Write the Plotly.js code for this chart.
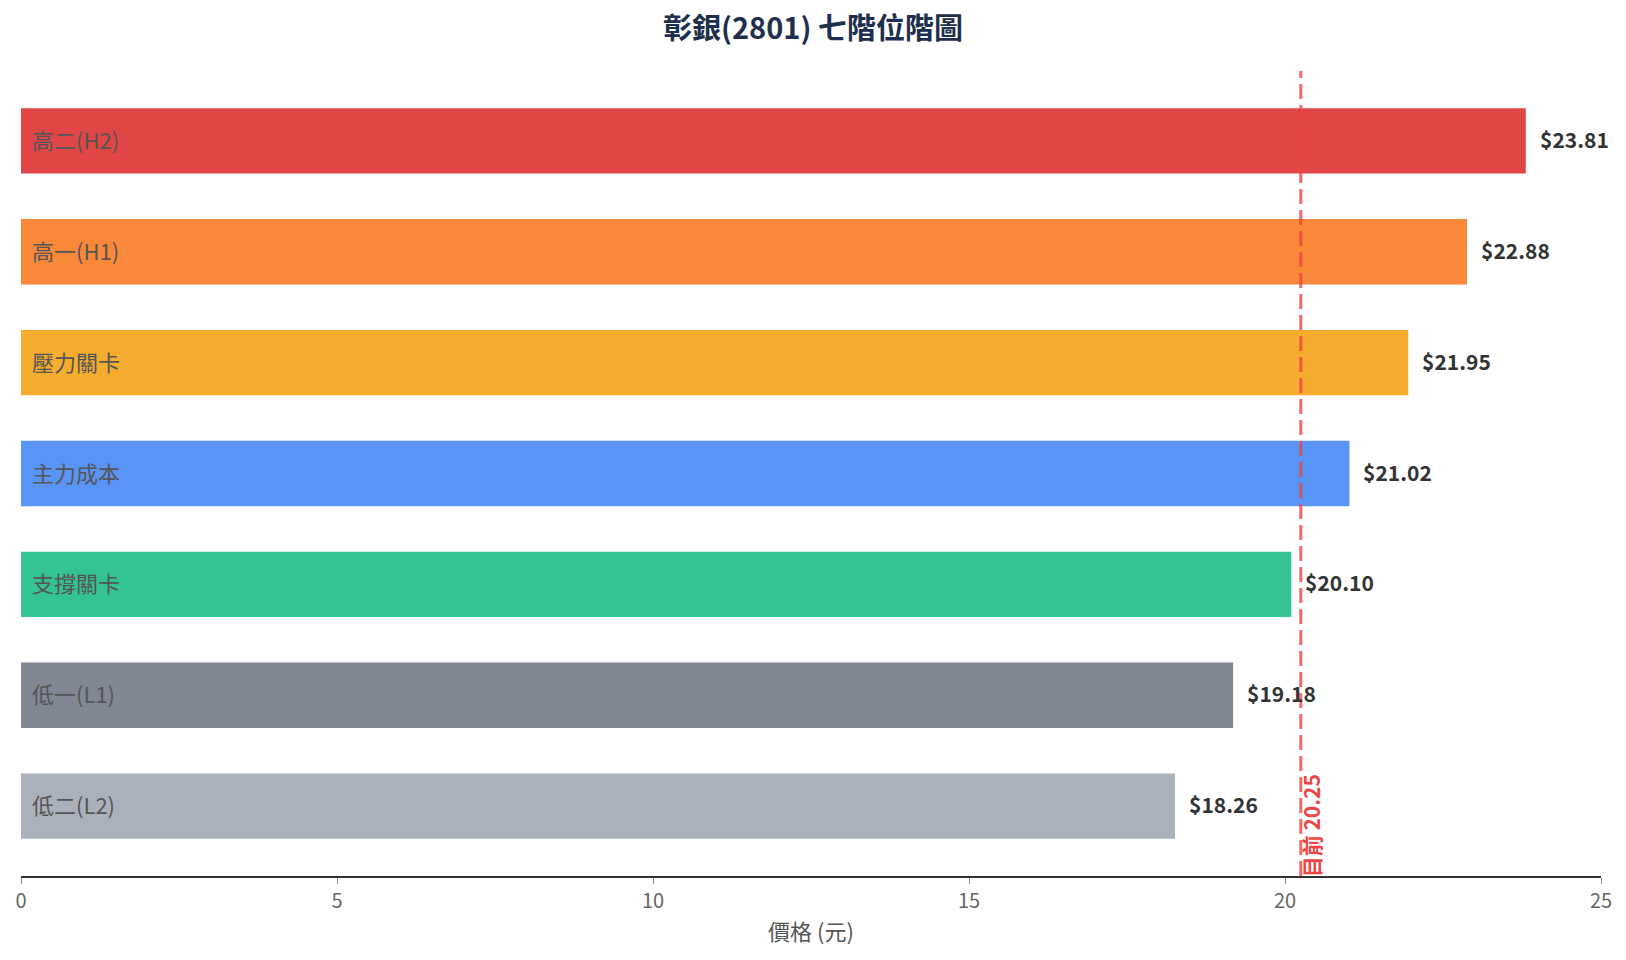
<!DOCTYPE html>
<html>
<head>
<meta charset="utf-8">
<script src="https://cdn.plot.ly/plotly-3.0.1.min.js"></script>
<style>
	body { margin: 0; background: #ffffff; }
	#levelChart { width: 1626px; height: 960px; }
</style>
</head>
<body>
<div id="levelChart"></div>
<script>
let levelNames = ["低二(L2)", "低一(L1)", "支撐關卡", "主力成本", "壓力關卡", "高一(H1)", "高二(H2)"];
let levelPrices = [18.26, 19.18, 20.10, 21.02, 21.95, 22.88, 23.81];
let levelColors = ["#9ca3af", "#6b7280", "#10b981", "#3b82f6", "#f59e0b", "#f97316", "#dc2626"];
let currentPrice = 20.25;
let xTicks = [0, 5, 10, 15, 20, 25];

let fontName = "'Noto Sans CJK TC', 'Noto Sans', sans-serif";

let levelTrace = {
	x: levelPrices,
	y: levelNames,
	type: 'bar',
	orientation: 'h',
	width: 0.59,
	marker: {
		color: levelColors,
		opacity: 0.85
	},
	hoverinfo: 'none',
	showlegend: false
};

let chartNotes = [];
for(let i = 0; i < levelPrices.length; i++){
	// price after the bar
	chartNotes.push({
		x: levelPrices[i],
		y: levelNames[i],
		xref: 'x',
		yref: 'y',
		text: `<b>$${levelPrices[i].toFixed(2)}</b>`,
		showarrow: false,
		xanchor: 'left',
		xshift: 12,
		yshift: 2,
		font: { family: fontName, size: 21, color: '#333333' }
	});
	// level name inside the bar
	chartNotes.push({
		x: 0,
		y: levelNames[i],
		xref: 'x',
		yref: 'y',
		text: levelNames[i],
		showarrow: false,
		xanchor: 'left',
		xshift: 9,
		yshift: 2,
		font: { family: fontName, size: 22, color: '#555555' }
	});
}

chartNotes.push({
	x: currentPrice,
	y: 0,
	xref: 'x',
	yref: 'paper',
	text: `<b>目前 ${currentPrice.toFixed(2)}</b>`,
	showarrow: false,
	textangle: -90,
	xanchor: 'left',
	yanchor: 'bottom',
	xshift: -7,
	yshift: -3,
	font: { family: fontName, size: 21, color: '#ef4444' }
});

let levelLayout = {
	width: 1626,
	height: 960,
	margin: { l: 21, r: 25, t: 71, b: 84 },
	paper_bgcolor: '#ffffff',
	plot_bgcolor: '#ffffff',
	font: { family: fontName, color: '#555555' },
	title: {
		text: '<b>彰銀(2801) 七階位階圖</b>',
		x: 0.5,
		xanchor: 'center',
		y: 0.97,
		yanchor: 'middle',
		font: { family: fontName, size: 29, color: '#1e2f4d' }
	},
	xaxis: {
		range: [0, 25],
		tickvals: xTicks,
		ticks: 'outside',
		ticklen: 6,
		tickcolor: '#888888',
		tickfont: { size: 20, color: '#666666' },
		showgrid: false,
		zeroline: false,
		showline: true,
		linecolor: '#333333',
		linewidth: 2,
		title: {
			text: '價格 (元)',
			font: { size: 22, color: '#555555' },
			standoff: 12
		}
	},
	yaxis: {
		type: 'category',
		range: [-0.63, 6.63],
		showticklabels: false,
		ticks: '',
		showgrid: false,
		zeroline: false,
		showline: false
	},
	shapes: [{
		type: 'line',
		xref: 'x',
		yref: 'paper',
		x0: currentPrice,
		x1: currentPrice,
		y0: 0,
		y1: 1,
		opacity: 0.8,
		line: { color: '#ef4444', width: 3, dash: '15px,6px' },
		layer: 'above'
	}],
	annotations: chartNotes
};

Plotly.newPlot('levelChart', [levelTrace], levelLayout, { displayModeBar: false });
</script>
</body>
</html>
